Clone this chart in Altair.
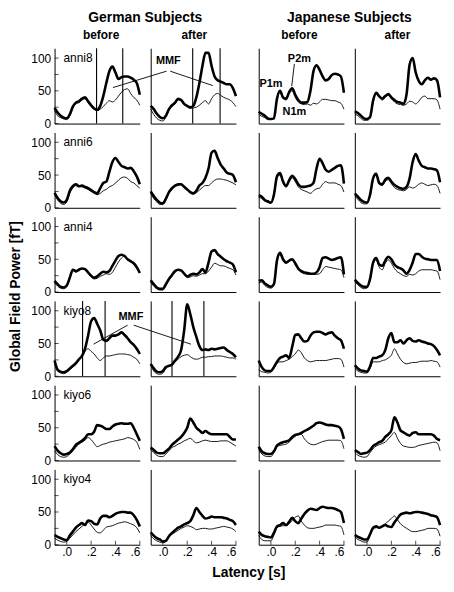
import altair as alt
import pandas as pd

FONT = "Liberation Sans"

# latency samples (s)
T = [-0.1, -0.075, -0.05, -0.025, 0.0, 0.025, 0.05, 0.075, 0.1, 0.125, 0.15, 0.175, 0.2, 0.225,
     0.25, 0.275, 0.3, 0.325, 0.35, 0.375, 0.4, 0.425, 0.45, 0.475, 0.5, 0.525, 0.55, 0.575, 0.6]

SUBJECTS = ["anni8", "anni6", "anni4", "kiyo8", "kiyo6", "kiyo4"]
Y_TICKS = [0, 25, 50, 75, 100]
Y_LABELS = [0, 50, 100]
X_TICKS = [0.0, 0.2, 0.4, 0.6]

# German subjects, before
GB_ANNI8_THICK = [24, 17, 12, 9, 8, 14, 26, 32, 34, 38, 40, 34, 28, 23, 21, 27, 42, 62, 80, 87, 78, 68, 71, 72, 72, 70, 67, 62, 44]
GB_ANNI8_THIN = [20, 12, 9, 7, 6, 12, 24, 30, 32, 36, 38, 32, 26, 22, 20, 22, 26, 31, 35, 33, 36, 42, 48, 52, 53, 46, 40, 36, 28]
GB_ANNI6_THICK = [23, 15, 10, 8, 12, 26, 33, 36, 33, 34, 32, 30, 27, 24, 22, 30, 38, 40, 55, 70, 76, 70, 64, 62, 60, 61, 56, 48, 36]
GB_ANNI6_THIN = [20, 12, 7, 5, 9, 22, 30, 34, 32, 32, 30, 28, 25, 22, 20, 22, 26, 28, 32, 34, 38, 42, 46, 47, 45, 40, 38, 34, 30]
GB_ANNI4_THICK = [17, 12, 8, 7, 10, 22, 34, 32, 34, 36, 35, 30, 25, 22, 24, 28, 31, 30, 32, 40, 48, 55, 57, 55, 50, 47, 44, 38, 29]
GB_ANNI4_THIN = [14, 9, 6, 5, 8, 20, 33, 30, 33, 35, 34, 29, 23, 20, 21, 24, 26, 28, 27, 30, 38, 46, 52, 55, 50, 46, 42, 36, 29]
GB_KIYO8_THICK = [24, 10, 7, 6, 8, 12, 16, 20, 26, 31, 42, 62, 84, 89, 80, 70, 56, 54, 58, 62, 62, 64, 67, 63, 58, 52, 48, 42, 34]
GB_KIYO8_THIN = [20, 8, 5, 4, 6, 10, 14, 18, 24, 30, 38, 42, 38, 34, 28, 24, 28, 31, 31, 32, 33, 34, 34, 34, 33, 32, 29, 26, 19]
GB_KIYO6_THICK = [22, 15, 11, 9, 10, 12, 17, 24, 27, 30, 34, 40, 40, 44, 54, 53, 51, 48, 48, 52, 55, 56, 57, 56, 56, 57, 50, 40, 30]
GB_KIYO6_THIN = [15, 9, 6, 5, 6, 10, 15, 20, 25, 28, 31, 35, 32, 26, 21, 23, 25, 26, 28, 29, 30, 31, 32, 33, 35, 34, 32, 28, 17]
GB_KIYO4_THICK = [15, 12, 10, 8, 7, 14, 20, 26, 30, 33, 30, 37, 36, 32, 31, 40, 44, 44, 42, 44, 47, 49, 50, 50, 49, 49, 45, 38, 28]
GB_KIYO4_THIN = [10, 7, 5, 4, 5, 10, 15, 20, 24, 28, 32, 35, 30, 24, 19, 18, 22, 27, 28, 29, 31, 33, 34, 35, 34, 32, 30, 26, 18]

# German subjects, after
GA_ANNI8_THICK = [27, 22, 15, 10, 8, 12, 22, 28, 32, 38, 36, 30, 27, 25, 27, 40, 62, 88, 108, 108, 88, 72, 66, 64, 62, 60, 60, 54, 42]
GA_ANNI8_THIN = [22, 14, 8, 5, 4, 10, 20, 26, 30, 36, 35, 29, 26, 23, 24, 25, 28, 32, 35, 30, 38, 44, 46, 43, 40, 38, 36, 32, 26]
GA_ANNI6_THICK = [25, 18, 12, 8, 7, 14, 24, 30, 34, 36, 36, 32, 28, 24, 22, 26, 34, 38, 46, 60, 84, 87, 76, 66, 60, 54, 52, 50, 39]
GA_ANNI6_THIN = [22, 14, 9, 5, 5, 12, 22, 28, 32, 34, 35, 31, 27, 23, 21, 23, 27, 31, 34, 34, 38, 42, 44, 44, 43, 42, 40, 38, 35]
GA_ANNI4_THICK = [18, 12, 7, 5, 5, 12, 20, 26, 32, 34, 33, 28, 24, 26, 28, 27, 30, 35, 30, 45, 62, 64, 58, 54, 50, 47, 45, 42, 30]
GA_ANNI4_THIN = [15, 9, 5, 3, 3, 10, 18, 24, 30, 33, 32, 27, 22, 23, 25, 24, 26, 28, 28, 32, 38, 44, 42, 40, 40, 38, 36, 34, 26]
GA_KIYO8_THICK = [19, 12, 7, 6, 8, 14, 16, 18, 24, 30, 40, 70, 110, 95, 75, 60, 46, 40, 41, 40, 42, 41, 42, 43, 44, 40, 37, 34, 29]
GA_KIYO8_THIN = [17, 8, 4, 3, 5, 12, 15, 17, 22, 26, 30, 32, 33, 30, 27, 26, 27, 29, 29, 30, 30, 31, 31, 31, 30, 29, 28, 28, 26]
GA_KIYO6_THICK = [20, 16, 12, 11, 11, 14, 18, 24, 28, 32, 36, 42, 50, 64, 58, 50, 46, 42, 45, 42, 40, 40, 40, 40, 40, 40, 36, 32, 32]
GA_KIYO6_THIN = [17, 12, 8, 6, 6, 10, 15, 20, 22, 25, 27, 30, 32, 34, 30, 27, 28, 30, 31, 30, 29, 29, 29, 30, 30, 30, 28, 25, 22]
GA_KIYO4_THICK = [19, 14, 10, 8, 5, 6, 13, 18, 22, 26, 28, 31, 33, 36, 45, 56, 50, 44, 40, 41, 43, 42, 42, 42, 41, 40, 38, 36, 30]
GA_KIYO4_THIN = [14, 9, 6, 4, 3, 5, 12, 16, 19, 22, 25, 27, 29, 28, 26, 23, 24, 25, 25, 24, 24, 25, 26, 27, 28, 27, 26, 24, 20]

# Japanese subjects, before
JB_ANNI8_THICK = [18, 15, 12, 8, 7, 8, 38, 50, 40, 38, 48, 54, 44, 36, 32, 32, 33, 50, 80, 89, 82, 72, 66, 68, 74, 76, 75, 72, 47]
JB_ANNI8_THIN = [14, 11, 9, 6, 6, 8, 36, 48, 38, 36, 46, 50, 40, 33, 30, 29, 30, 28, 31, 30, 33, 37, 37, 36, 35, 35, 33, 31, 22]
JB_ANNI6_THICK = [19, 17, 12, 10, 8, 20, 48, 53, 40, 33, 42, 49, 44, 36, 32, 32, 33, 34, 38, 60, 75, 68, 58, 55, 58, 61, 64, 65, 37]
JB_ANNI6_THIN = [16, 14, 10, 8, 7, 18, 46, 50, 38, 32, 40, 46, 40, 32, 28, 26, 24, 22, 26, 29, 30, 36, 40, 38, 38, 38, 36, 34, 24]
JB_ANNI4_THICK = [17, 18, 13, 10, 8, 12, 48, 60, 50, 45, 48, 50, 44, 36, 32, 30, 29, 28, 28, 30, 38, 52, 53, 51, 49, 50, 52, 53, 27]
JB_ANNI4_THIN = [14, 15, 10, 7, 6, 10, 46, 57, 48, 44, 47, 49, 42, 34, 30, 28, 27, 27, 27, 27, 28, 34, 39, 38, 37, 36, 35, 34, 22]
JB_KIYO8_THICK = [24, 14, 9, 8, 8, 14, 22, 28, 30, 32, 28, 45, 63, 64, 58, 53, 54, 62, 67, 68, 68, 66, 64, 66, 67, 62, 58, 55, 42]
JB_KIYO8_THIN = [10, 7, 6, 5, 6, 12, 20, 22, 22, 24, 26, 30, 34, 40, 36, 28, 24, 22, 23, 24, 24, 24, 24, 25, 26, 27, 27, 26, 14]
JB_KIYO6_THICK = [21, 14, 11, 10, 10, 14, 23, 26, 28, 29, 31, 36, 39, 40, 42, 45, 47, 50, 53, 57, 58, 57, 55, 54, 54, 53, 52, 48, 33]
JB_KIYO6_THIN = [17, 10, 7, 6, 6, 12, 21, 23, 24, 25, 28, 33, 37, 40, 40, 33, 28, 25, 24, 25, 27, 29, 30, 31, 31, 31, 31, 30, 18]
JB_KIYO4_THICK = [20, 15, 13, 12, 11, 18, 28, 30, 33, 30, 35, 41, 36, 33, 40, 47, 52, 55, 54, 53, 56, 58, 57, 56, 56, 55, 53, 50, 33]
JB_KIYO4_THIN = [14, 8, 6, 6, 6, 15, 26, 28, 29, 29, 32, 37, 42, 44, 36, 30, 26, 25, 25, 26, 27, 28, 30, 30, 30, 30, 29, 28, 15]

# Japanese subjects, after
JA_ANNI8_THICK = [19, 16, 12, 8, 7, 10, 35, 47, 42, 38, 42, 45, 40, 36, 33, 32, 30, 45, 90, 100, 78, 65, 60, 66, 70, 67, 69, 66, 40]
JA_ANNI8_THIN = [15, 12, 8, 5, 5, 8, 33, 45, 40, 36, 40, 43, 38, 33, 30, 29, 28, 30, 34, 33, 30, 34, 40, 42, 38, 38, 38, 36, 22]
JA_ANNI6_THICK = [22, 17, 12, 9, 8, 20, 45, 52, 38, 36, 43, 46, 40, 35, 32, 30, 29, 32, 45, 70, 82, 72, 64, 62, 60, 60, 59, 57, 39]
JA_ANNI6_THIN = [18, 13, 8, 6, 6, 18, 43, 50, 36, 34, 40, 43, 37, 31, 28, 27, 26, 28, 32, 30, 32, 36, 38, 36, 34, 35, 36, 34, 22]
JA_ANNI4_THICK = [19, 14, 10, 8, 8, 20, 45, 52, 42, 40, 48, 54, 50, 42, 38, 36, 33, 28, 34, 45, 58, 58, 54, 51, 50, 49, 49, 49, 32]
JA_ANNI4_THIN = [16, 11, 7, 5, 6, 18, 43, 49, 38, 34, 44, 49, 44, 36, 31, 28, 25, 24, 27, 26, 28, 32, 34, 34, 34, 34, 33, 32, 19]
JA_KIYO8_THICK = [17, 12, 9, 8, 7, 15, 28, 28, 30, 32, 40, 58, 66, 52, 52, 55, 50, 55, 58, 54, 53, 55, 53, 52, 50, 49, 46, 40, 32]
JA_KIYO8_THIN = [12, 8, 6, 5, 5, 12, 22, 22, 22, 24, 25, 28, 32, 42, 34, 26, 21, 19, 20, 21, 21, 22, 23, 23, 23, 24, 23, 22, 14]
JA_KIYO6_THICK = [16, 13, 10, 11, 12, 16, 22, 25, 28, 30, 36, 40, 46, 66, 58, 46, 43, 40, 38, 42, 43, 40, 40, 40, 40, 40, 38, 33, 31]
JA_KIYO6_THIN = [12, 8, 6, 5, 6, 12, 18, 22, 24, 26, 28, 33, 38, 43, 34, 26, 22, 21, 20, 20, 21, 23, 24, 25, 26, 27, 28, 27, 15]
JA_KIYO4_THICK = [15, 12, 10, 8, 8, 16, 26, 28, 26, 28, 30, 28, 27, 34, 40, 46, 48, 49, 48, 49, 50, 50, 49, 48, 47, 45, 44, 42, 30]
JA_KIYO4_THIN = [12, 8, 6, 4, 4, 14, 24, 26, 26, 29, 32, 36, 40, 44, 38, 32, 28, 25, 22, 20, 20, 21, 22, 23, 25, 25, 25, 24, 13]

# MMF analysis windows (s)
MMF_ANNI8_BEFORE = [0.245, 0.46]
MMF_ANNI8_AFTER = [0.245, 0.47]
MMF_KIYO8_BEFORE = [0.13, 0.315]
MMF_KIYO8_AFTER = [0.075, 0.337]

# annotations (data coordinates of the panel they are drawn in)
MMF1_TEXT = {"t": [0.045], "v": [95], "txt": ["MMF"]}
MMF1_SEGS = {"t": [0.03, 0.06], "v": [80, 80], "t2": [-0.41, 0.41], "v2": [55, 58]}
MMF4_TEXT = {"t": [0.527], "v": [90], "txt": ["MMF"]}
MMF4_SEGS = {"t": [0.50, 0.55], "v": [78, 78], "t2": [0.22, 1.02], "v2": [49, 49]}
PEAK_TEXT = {"t": [0.0, 0.234, 0.193], "v": [61, 98, 17], "txt": ["P1m", "P2m", "N1m"]}
PEAK_SEGS = {"t": [0.193], "v": [91], "t2": [0.171], "v2": [57]}

W, H = 86, 76
XDOM = [-0.1, 0.6]
YDOM = [0, 115]


def label_layer(text, x, y, size=12, weight="normal", angle=0):
    return alt.Chart(pd.DataFrame({"lab": [text]})).mark_text(
        font=FONT, fontSize=size, fontWeight=weight, align="center", baseline="middle",
        color="black", angle=angle
    ).encode(text="lab:N", x=alt.value(x), y=alt.value(y))


def panel(thick, thin, first_col, bottom, label=None, vlines=None, extras=(), texts=()):
    if bottom:
        xaxis = alt.Axis(values=X_TICKS, labelExpr="replace(format(datum.value, '.1f'), '0.', '.')",
                         ticks=False, grid=False, title=None, labelPadding=2, labelFontSize=12)
    else:
        xaxis = alt.Axis(labels=False, ticks=False, grid=False, title=None)
    if first_col:
        yaxis = alt.Axis(values=Y_LABELS, ticks=False, grid=False, title=None, labelPadding=4, labelFontSize=12)
    else:
        yaxis = alt.Axis(labels=False, ticks=False, grid=False, title=None)

    def xe(field):
        return alt.X(f"{field}:Q", scale=alt.Scale(domain=XDOM, nice=False, zero=False), axis=xaxis)

    def ye(field):
        return alt.Y(f"{field}:Q", scale=alt.Scale(domain=YDOM, nice=False, zero=False), axis=yaxis)

    thin_line = alt.Chart(pd.DataFrame({"t": T, "v": thin})).mark_line(
        color="black", strokeWidth=0.9, interpolate="monotone"
    ).encode(x=xe("t"), y=ye("v"))
    thick_line = alt.Chart(pd.DataFrame({"t": T, "v": thick})).mark_line(
        color="black", strokeWidth=2.6, interpolate="monotone"
    ).encode(x=xe("t"), y=ye("v"))
    layers = [thin_line, thick_line]
    if vlines:
        layers.append(alt.Chart(pd.DataFrame({"t": vlines})).mark_rule(color="black", strokeWidth=1.1)
                      .encode(x=xe("t")))
    if first_col:
        layers.append(alt.Chart(pd.DataFrame({"v": Y_TICKS})).mark_tick(
            orient="horizontal", size=4, thickness=1, color="black").encode(y=ye("v"), x=alt.value(2)))
    if bottom:
        layers.append(alt.Chart(pd.DataFrame({"t": X_TICKS})).mark_tick(
            orient="vertical", size=4, thickness=1, color="black").encode(x=xe("t"), y=alt.value(H - 2)))
    if label:
        layers.append(alt.Chart(pd.DataFrame({"lab": [label]})).mark_text(
            font=FONT, fontSize=12, align="left", baseline="middle", color="black"
        ).encode(text="lab:N", x=alt.value(9), y=alt.value(10)))
    for kind, d in extras:
        df = pd.DataFrame(d)
        if kind == "text":
            layers.append(alt.Chart(df).mark_text(font=FONT, fontSize=11, fontWeight="bold", color="black")
                          .encode(x=xe("t"), y=ye("v"), text="txt:N"))
        else:
            layers.append(alt.Chart(df).mark_rule(color="black", strokeWidth=0.9)
                          .encode(x=xe("t"), y=ye("v"), x2=alt.X2("t2"), y2=alt.Y2("v2")))
    layers.extend(texts)
    return alt.layer(*layers).properties(width=W, height=H)


GB = [(GB_ANNI8_THICK, GB_ANNI8_THIN), (GB_ANNI6_THICK, GB_ANNI6_THIN), (GB_ANNI4_THICK, GB_ANNI4_THIN),
      (GB_KIYO8_THICK, GB_KIYO8_THIN), (GB_KIYO6_THICK, GB_KIYO6_THIN), (GB_KIYO4_THICK, GB_KIYO4_THIN)]
GA = [(GA_ANNI8_THICK, GA_ANNI8_THIN), (GA_ANNI6_THICK, GA_ANNI6_THIN), (GA_ANNI4_THICK, GA_ANNI4_THIN),
      (GA_KIYO8_THICK, GA_KIYO8_THIN), (GA_KIYO6_THICK, GA_KIYO6_THIN), (GA_KIYO4_THICK, GA_KIYO4_THIN)]
JB = [(JB_ANNI8_THICK, JB_ANNI8_THIN), (JB_ANNI6_THICK, JB_ANNI6_THIN), (JB_ANNI4_THICK, JB_ANNI4_THIN),
      (JB_KIYO8_THICK, JB_KIYO8_THIN), (JB_KIYO6_THICK, JB_KIYO6_THIN), (JB_KIYO4_THICK, JB_KIYO4_THIN)]
JA = [(JA_ANNI8_THICK, JA_ANNI8_THIN), (JA_ANNI6_THICK, JA_ANNI6_THIN), (JA_ANNI4_THICK, JA_ANNI4_THIN),
      (JA_KIYO8_THICK, JA_KIYO8_THIN), (JA_KIYO6_THICK, JA_KIYO6_THIN), (JA_KIYO4_THICK, JA_KIYO4_THIN)]

VL_B = {0: MMF_ANNI8_BEFORE, 3: MMF_KIYO8_BEFORE}
VL_A = {0: MMF_ANNI8_AFTER, 3: MMF_KIYO8_AFTER}

COL_GAP = 11
ROW_GAP = 9

cells = []
for i, subj in enumerate(SUBJECTS):
    bottom = i == len(SUBJECTS) - 1
    top = i == 0
    ex_gb = [("segs", MMF4_SEGS), ("text", MMF4_TEXT)] if i == 3 else []
    ex_ga = [("segs", MMF1_SEGS), ("text", MMF1_TEXT)] if i == 0 else []
    ex_jb = [("segs", PEAK_SEGS), ("text", PEAK_TEXT)] if i == 0 else []
    tx_gb, tx_ga, tx_jb, tx_ja = [], [], [], []
    if top:
        tx_gb.append(label_layer("German Subjects", W + COL_GAP / 2, -31, size=14, weight="bold"))
        tx_jb.append(label_layer("Japanese Subjects", W + COL_GAP / 2, -31, size=14, weight="bold"))
        tx_gb.append(label_layer("before", W / 2 + 4, -13, size=12, weight="bold"))
        tx_ga.append(label_layer("after", W / 2 + 1, -13, size=12, weight="bold"))
        tx_jb.append(label_layer("before", W / 2 - 2, -13, size=12, weight="bold"))
        tx_ja.append(label_layer("after", W / 2, -13, size=12, weight="bold"))
    if i == 3:
        tx_gb.append(label_layer("Global Field Power [fT]", -39, -ROW_GAP / 2, size=14, weight="bold", angle=270))
    if bottom:
        tx_ga.append(label_layer("Latency [s]", W + 13, H + 29, size=14, weight="bold"))
    p1 = panel(*GB[i], first_col=True, bottom=bottom, label=subj, vlines=VL_B.get(i),
               extras=ex_gb, texts=tx_gb)
    p2 = panel(*GA[i], first_col=False, bottom=bottom, vlines=VL_A.get(i), extras=ex_ga, texts=tx_ga)
    spacer = alt.Chart(pd.DataFrame({"a": [0]})).mark_point(opacity=0).properties(width=1, height=H)
    p3 = panel(*JB[i], first_col=False, bottom=bottom, extras=ex_jb, texts=tx_jb)
    p4 = panel(*JA[i], first_col=False, bottom=bottom, texts=tx_ja)
    cells.extend([p1, p2, spacer, p3, p4])

chart = alt.concat(
    *cells, columns=5, spacing={"row": ROW_GAP, "column": COL_GAP}, bounds="flush", align="each"
).properties(padding=0).configure_view(stroke=None).configure_axis(
    domainColor="black", domainWidth=1, labelFont=FONT, labelColor="black", labelFontSize=12
).configure_title(font=FONT, color="black")

chart.save("out.html", embed_options={"renderer": "svg", "actions": False})
